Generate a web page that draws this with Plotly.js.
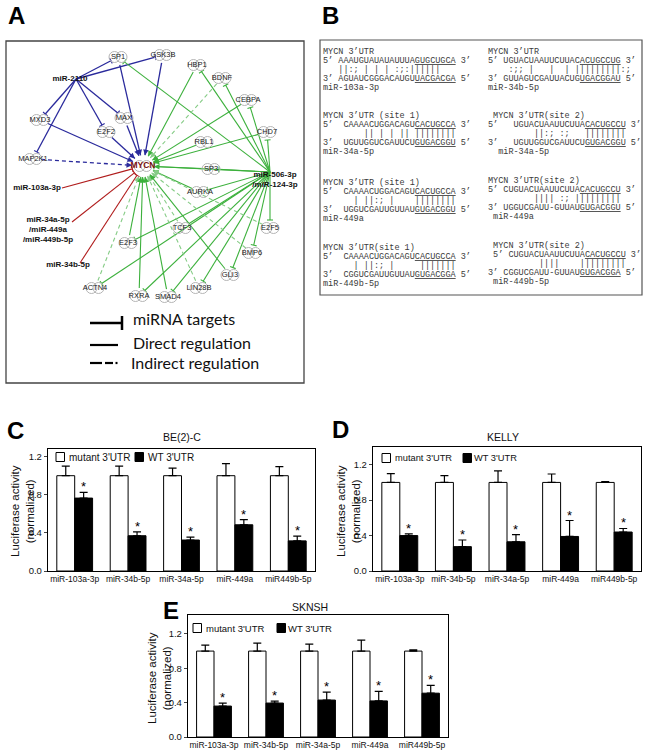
<!DOCTYPE html>
<html>
<head>
<meta charset="utf-8">
<script src="https://cdn.plot.ly/plotly-3.0.1.min.js"></script>
<style>
body { margin: 0; background: #fff; }
#plot { width: 648px; height: 752px; }
</style>
</head>
<body>
<div id="plot"></div>
<script>
// ---- luciferase data (panels C, D, E) ----
var mirLabels = ["miR-103a-3p", "miR-34b-5p", "miR-34a-5p", "miR-449a", "miR449b-5p"];

var beMutant = [1, 1, 1, 1, 1];
var beMutantErr = [0.10, 0.10, 0.08, 0.126, 0.095];
var beWT = [0.765, 0.37, 0.325, 0.485, 0.316];
var beWTErr = [0.06, 0.04, 0.03, 0.055, 0.05];

var kellyMutant = [1, 1, 1, 1, 1];
var kellyMutantErr = [0.10, 0.077, 0.13, 0.095, 0.01];
var kellyWT = [0.40, 0.275, 0.33, 0.39, 0.44];
var kellyWTErr = [0.02, 0.075, 0.08, 0.18, 0.04];

var sknshMutant = [1, 1, 1, 1, 1];
var sknshMutantErr = [0.07, 0.093, 0.08, 0.128, 0.015];
var sknshWT = [0.36, 0.395, 0.43, 0.42, 0.51];
var sknshWTErr = [0.035, 0.023, 0.093, 0.11, 0.09];

// ---- network (panel A) ----
var geneNames = ["MYCN", "SP1", "GSK3B", "HBP1", "BDNF", "CEBPA", "CHD7", "RBL1", "MAX", "E2F2", "MXD3", "MAP2K1",
  "SP3", "AURKA", "TCF3", "E2F5", "E2F3", "BMP6", "GLI3", "ACTN4", "LIN28B", "RXRA", "SMAD4"];
var mirNames = ["miR-2110", "miR-103a-3p", "miR-34a-5p<br>/miR-449a<br>/miR-449b-5p", "miR-34b-5p", "miR-506-3p<br>/miR-124-3p"];
var mirKeys = ["miR-2110", "miR-103a", "miR-34a", "miR-34b", "miR-506"];

// from, to, kind (T = miRNA target, A = direct, D = indirect), colour group
var edges = [
  ["miR-2110", "SP1", "T", "b"], ["miR-2110", "GSK3B", "T", "b"], ["miR-2110", "MXD3", "T", "b"],
  ["miR-2110", "MAP2K1", "T", "b"], ["miR-2110", "E2F2", "T", "b"], ["miR-2110", "MAX", "T", "b"],
  ["SP1", "MYCN", "A", "b"], ["GSK3B", "MYCN", "A", "b"], ["MAX", "MYCN", "A", "b"],
  ["E2F2", "MYCN", "A", "b"], ["MXD3", "MYCN", "A", "b"], ["MAP2K1", "MYCN", "D", "b"],
  ["miR-103a", "MYCN", "T", "r"], ["miR-34a", "MYCN", "T", "r"], ["miR-34b", "MYCN", "T", "r"],
  ["miR-506", "SP1", "T", "g"], ["miR-506", "HBP1", "T", "g"], ["miR-506", "BDNF", "T", "g"],
  ["miR-506", "CEBPA", "T", "g"], ["miR-506", "CHD7", "T", "g"], ["miR-506", "SP3", "T", "g"],
  ["miR-506", "AURKA", "T", "g"], ["miR-506", "E2F5", "T", "g"], ["miR-506", "BMP6", "T", "g"],
  ["miR-506", "GLI3", "T", "g"], ["miR-506", "LIN28B", "T", "g"], ["miR-506", "SMAD4", "T", "g"],
  ["miR-506", "RXRA", "T", "g"], ["miR-506", "ACTN4", "T", "g"], ["miR-506", "E2F3", "T", "g"],
  ["miR-506", "TCF3", "T", "g"], ["miR-506", "MYCN", "T", "g"],
  ["HBP1", "MYCN", "A", "g"], ["BDNF", "MYCN", "D", "g"], ["CEBPA", "MYCN", "A", "g"],
  ["CHD7", "MYCN", "A", "g"], ["RBL1", "MYCN", "A", "g"], ["SP3", "MYCN", "A", "g"],
  ["AURKA", "MYCN", "A", "g"], ["E2F5", "MYCN", "D", "g"], ["TCF3", "MYCN", "D", "g"],
  ["BMP6", "MYCN", "D", "g"], ["GLI3", "MYCN", "A", "g"], ["LIN28B", "MYCN", "D", "g"],
  ["SMAD4", "MYCN", "A", "g"], ["RXRA", "MYCN", "A", "g"], ["ACTN4", "MYCN", "D", "g"],
  ["E2F3", "MYCN", "A", "g"]
];

// ---- sequence alignments (panel B) ----
var utrHeads = ["MYCN 3’UTR", "MYCN 3’UTR", "MYCN 3’UTR (site 1)", " MYCN 3’UTR(site 2)",
  "MYCN 3’UTR (site 1)", "MYCN 3’UTR(site 2)", "MYCN 3’UTR(site 1)", " MYCN 3’UTR(site 2)"];
var utrSeqs = ["5’ AAAUGUAUAUAUUUA<u>GUGCUGCA</u> 3’", "5’ UGUACUAAUUCUUAC<u>ACUGCCUG</u> 3’",
  "5’  CAAAACUGGACAGU<u>CACUGCCA</u> 3’", "5’   UGUACUAAUUCUUA<u>CACUGCCU</u> 3’",
  "5’  CAAAACUGGACAGU<u>CACUGCCA</u> 3’", "5’ CUGUACUAAUUCUUA<u>CACUGCCU</u> 3’",
  "5’  CAAAACUGGACAGU<u>CACUGCCA</u> 3’", " 5’ CUGUACUAAUUCUUA<u>CACUGCCU</u> 3’"];
var pairLines = ["   ||:; | | | :;:||||||", "    :;; |   |  | |||||||||:;",
  "        || | | || ||||||||", "         ||:; :;   ||||||||",
  "      | ||:; |    ||||||||", "         |||| :; |||||||||",
  "      | ||:; |     |||||||", "          ||||    |||||||||"];
var mirSeqs = ["3’ AGUAUCGGGACAUGU<u>UACGACGA</u> 5’", "3’ GUUAGUCGAUUACUG<u>UGACGGAU</u> 5’",
  "3’  UGUUGGUCGAUUCU<u>GUGACGGU</u> 5’", "3’   UGUUGGUCGAUUCU<u>GUGACGGU</u> 5’",
  "3’  UGGUCGAUUGUUAU<u>GUGACGGU</u> 5’", "3’ UGGUCGAUU-GUUAU<u>GUGACGGU</u> 5’",
  "3’  CGGUCGAUUGUUAU<u>GUGACGGA</u> 5’", "3’ CGGUCGAUU-GUUAU<u>GUGACGGA</u> 5’"];
var mirTags = ["miR-103a-3p", "miR-34b-5p", "miR-34a-5p", "  miR-34a-5p", "miR-449a", " miR-449a", "miR-449b-5p", " miR-449b-5p"];

// ---- drawing positions (pixels of the 648x752 page) ----
var genePos = {
  MYCN: [143, 166], SP1: [118, 57], GSK3B: [163, 55], HBP1: [197, 65], BDNF: [222, 78], CEBPA: [248, 100],
  CHD7: [267, 132], RBL1: [204, 142], MAX: [124, 118], E2F2: [106, 132], MXD3: [40, 120], MAP2K1: [33, 159],
  SP3: [211, 169], AURKA: [200, 192], TCF3: [182, 228], E2F5: [270, 228], E2F3: [128, 243], BMP6: [252, 253],
  GLI3: [230, 275], ACTN4: [95, 288], LIN28B: [199, 288], RXRA: [139, 296], SMAD4: [168, 297]
};
var mirLabelPos = [[70, 79], [37, 188], [48, 230], [68, 265], [275, 180]];
var mirAnchor = {"miR-2110": [76, 79], "miR-103a": [62, 188], "miR-34a": [72, 222], "miR-34b": [80, 263], "miR-506": [270, 172]};
var seqPos = [[322, 52], [487, 52], [322, 116], [487, 116], [322, 183], [487, 181], [322, 248], [487, 246]];
var rowStep = 9.1;

var W = 648, H = 752;
function px(x) { return x / W; }
function py(y) { return 1 - y / H; }

var colours = {b: "#2a2a9c", g: "#3cb03c", r: "#b01c1c"};
var shapes = [];
var annotations = [];
var traces = [];

// ---- network edges ----
function nodeAt(name) {
  if (genePos[name]) return {p: genePos[name], r: name === "MYCN" ? 11 : 8};
  return {p: mirAnchor[name], r: 0};
}
edges.forEach(function (e) {
  var a = nodeAt(e[0]), b = nodeAt(e[1]);
  var dx = b.p[0] - a.p[0], dy = b.p[1] - a.p[1];
  var len = Math.sqrt(dx * dx + dy * dy);
  var ux = dx / len, uy = dy / len;
  var x0 = a.p[0] + ux * a.r, y0 = a.p[1] + uy * a.r;
  var x1 = b.p[0] - ux * b.r, y1 = b.p[1] - uy * b.r;
  var c = colours[e[3]];
  if (e[2] === "D" && e[3] === "g") c = "#86cc86";
  shapes.push({type: "line", xref: "x4", yref: "y4", x0: x0, y0: y0, x1: x1, y1: y1, layer: "below",
    line: {color: c, width: e[3] === "b" ? 1.3 : 1.1, dash: e[2] === "D" ? "4px,3px" : "solid"}});
  if (e[2] === "T") {
    shapes.push({type: "line", xref: "x4", yref: "y4", x0: x1 - uy * 3, y0: y1 + ux * 3, x1: x1 + uy * 3, y1: y1 - ux * 3,
      layer: "below", line: {color: c, width: 1.1}});
  } else {
    annotations.push({xref: "x4", yref: "y4", axref: "x4", ayref: "y4", x: x1, y: y1, ax: x1 - ux * 6, ay: y1 - uy * 6,
      text: "", showarrow: true, arrowhead: 2, arrowsize: 1, arrowwidth: 1.1, arrowcolor: c, standoff: 0});
  }
});

// node glyphs and labels
var glyphX = [], glyphY = [];
geneNames.forEach(function (g) {
  glyphX.push(genePos[g][0] - 3.5, genePos[g][0] + 3.5);
  glyphY.push(genePos[g][1], genePos[g][1]);
});
traces.push({type: "scatter", mode: "markers", x: glyphX, y: glyphY, xaxis: "x4", yaxis: "y4",
  marker: {symbol: "circle-open", size: 11, color: "#b5b5b5", line: {width: 1}}, hoverinfo: "skip", showlegend: false});
traces.push({type: "scatter", mode: "text", xaxis: "x4", yaxis: "y4",
  x: geneNames.map(function (g) { return genePos[g][0]; }),
  y: geneNames.map(function (g) { return genePos[g][1]; }),
  text: geneNames.map(function (g) { return g === "MYCN" ? "<b>MYCN</b>" : g; }),
  textfont: {family: "Liberation Sans, Arial, sans-serif", size: geneNames.map(function (g) { return g === "MYCN" ? 8.5 : 7.5; }),
    color: geneNames.map(function (g) { return g === "MYCN" ? "#7a0d0d" : "#222"; })},
  hoverinfo: "skip", showlegend: false});
traces.push({type: "scatter", mode: "text", xaxis: "x4", yaxis: "y4",
  x: mirLabelPos.map(function (p) { return p[0]; }), y: mirLabelPos.map(function (p) { return p[1]; }),
  text: mirNames.map(function (m) { return "<b>" + m + "</b>"; }),
  textfont: {family: "Liberation Sans, Arial, sans-serif", size: 8, color: "#111"},
  hoverinfo: "skip", showlegend: false});

// panel A frame and its legend
shapes.push({type: "rect", xref: "paper", yref: "paper", x0: px(6), x1: px(304), y0: py(383), y1: py(41), line: {color: "#444", width: 1.3}});
shapes.push({type: "line", xref: "x4", yref: "y4", x0: 90, x1: 122, y0: 323, y1: 323, line: {color: "#000", width: 2.5}});
shapes.push({type: "line", xref: "x4", yref: "y4", x0: 122, x1: 122, y0: 316, y1: 330, line: {color: "#000", width: 2.5}});
shapes.push({type: "line", xref: "x4", yref: "y4", x0: 90, x1: 118, y0: 345, y1: 345, line: {color: "#000", width: 2.2}});
shapes.push({type: "line", xref: "x4", yref: "y4", x0: 90, x1: 102, y0: 363, y1: 363, line: {color: "#000", width: 2.2}});
shapes.push({type: "line", xref: "x4", yref: "y4", x0: 105, x1: 113, y0: 363, y1: 363, line: {color: "#000", width: 2.2}});
shapes.push({type: "line", xref: "x4", yref: "y4", x0: 115.5, x1: 117.5, y0: 363, y1: 363, line: {color: "#000", width: 2.2}});
[["miRNA targets", 131, 318], ["Direct regulation", 131, 342], ["Indirect regulation", 129, 362]].forEach(function (t) {
  annotations.push({xref: "paper", yref: "paper", x: px(t[1]), y: py(t[2]), xanchor: "left", yanchor: "middle",
    text: t[0], showarrow: false, font: {family: "Lato, Open Sans, sans-serif", size: 16, color: "#111"}});
});

// ---- panel B ----
var NB = "\u00a0";
function mono(s) { return s.replace(/ /g, NB); }
shapes.push({type: "rect", xref: "paper", yref: "paper", x0: px(320), x1: px(642), y0: py(295), y1: py(40), line: {color: "#555", width: 1.2}});
seqPos.forEach(function (p, i) {
  var rows = [utrHeads[i], utrSeqs[i], pairLines[i], mirSeqs[i], mirTags[i]];
  rows.forEach(function (r, k) {
    annotations.push({xref: "paper", yref: "paper", x: px(p[0]), y: py(p[1] + k * rowStep), xanchor: "left", yanchor: "middle",
      text: mono(r), showarrow: false, borderpad: 0,
      font: {family: "Liberation Mono, Courier New, monospace", size: 8.5, color: "#3a3a3a"}});
  });
});

// ---- bar panels ----
var zeros = [0, 0, 0, 0, 0];
function barPair(mut, mutErr, wt, wtErr, xa, ya) {
  traces.push({type: "bar", x: mirLabels, y: mut, xaxis: xa, yaxis: ya, name: "mutant 3'UTR",
    marker: {color: "#fff", line: {color: "#000", width: 1}},
    error_y: {type: "data", symmetric: false, array: mutErr, arrayminus: zeros, color: "#000", thickness: 1.2, width: 4},
    hoverinfo: "skip", showlegend: false});
  traces.push({type: "bar", x: mirLabels, y: wt, xaxis: xa, yaxis: ya, name: "WT 3'UTR",
    marker: {color: "#000", line: {color: "#000", width: 1}},
    error_y: {type: "data", symmetric: false, array: wtErr, arrayminus: zeros, color: "#000", thickness: 1.2, width: 4},
    hoverinfo: "skip", showlegend: false});
  wt.forEach(function (v, i) {
    annotations.push({xref: xa, yref: ya, x: i + 0.1675, y: v + wtErr[i], xanchor: "center", yanchor: "bottom", yshift: -4,
      text: "*", showarrow: false, font: {family: "Liberation Sans, Arial, sans-serif", size: 13, color: "#000"}});
  });
}
barPair(beMutant, beMutantErr, beWT, beWTErr, "x", "y");
barPair(kellyMutant, kellyMutantErr, kellyWT, kellyWTErr, "x2", "y2");
barPair(sknshMutant, sknshMutantErr, sknshWT, sknshWTErr, "x3", "y3");

var axFont = {family: "Liberation Sans, Arial, sans-serif", size: 8.5, color: "#111"};
function xAxis(l, r, anchor) {
  return {domain: [px(l), px(r)], anchor: anchor, type: "category", showline: true, mirror: true, linecolor: "#000",
    linewidth: 1.2, ticks: "", tickfont: axFont, showgrid: false, zeroline: false, fixedrange: true};
}
function yAxis(top, bottom, topValue, anchor) {
  return {domain: [py(bottom), py(top)], anchor: anchor, range: [0, topValue], showline: true, mirror: true,
    linecolor: "#000", linewidth: 1.2, ticks: "outside", ticklen: 3, tickwidth: 1, tickvals: [0, 0.4, 0.8, 1.2],
    ticktext: ["0.0", "0.4", "0.8", "1.2"], tickfont: {family: "Liberation Sans, Arial, sans-serif", size: 9.5, color: "#111"},
    showgrid: false, zeroline: false, fixedrange: true};
}

// panel titles, y titles, hand-made legends
var panels = [
  {title: "BE(2)-C", tx: 182, ty: 437, yt: [22, 511], leg: [56, 457, 68, 135, 147], lf: 10},
  {title: "KELLY", tx: 503, ty: 437, yt: [348, 511], leg: [382, 458, 394, 463, 473], lf: 9.3},
  {title: "SKNSH", tx: 310, ty: 607, yt: [159, 678], leg: [193, 628, 205, 277, 287], lf: 9.5}
];
panels.forEach(function (p) {
  annotations.push({xref: "paper", yref: "paper", x: px(p.tx), y: py(p.ty), xanchor: "center", yanchor: "middle",
    text: p.title, showarrow: false, font: {family: "Liberation Sans, Arial, sans-serif", size: 10.5, color: "#111"}});
  annotations.push({xref: "paper", yref: "paper", x: px(p.yt[0]), y: py(p.yt[1]), xanchor: "center", yanchor: "middle",
    textangle: -90, text: "Luciferase activity<br>(normalized)", showarrow: false,
    font: {family: "Liberation Sans, Arial, sans-serif", size: 11.5, color: "#111"}});
  var l = p.leg;
  shapes.push({type: "rect", xref: "paper", yref: "paper", x0: px(l[0]), x1: px(l[0] + 8.5), y0: py(l[1] + 4.5), y1: py(l[1] - 4.5),
    fillcolor: "#fff", line: {color: "#000", width: 1}});
  shapes.push({type: "rect", xref: "paper", yref: "paper", x0: px(l[3]), x1: px(l[3] + 8.5), y0: py(l[1] + 4.5), y1: py(l[1] - 4.5),
    fillcolor: "#000", line: {color: "#000", width: 1}});
  annotations.push({xref: "paper", yref: "paper", x: px(l[2]), y: py(l[1]), xanchor: "left", yanchor: "middle", borderpad: 0,
    text: "mutant 3'UTR", showarrow: false, font: {family: "Liberation Sans, Arial, sans-serif", size: p.lf, color: "#111"}});
  annotations.push({xref: "paper", yref: "paper", x: px(l[4]), y: py(l[1]), xanchor: "left", yanchor: "middle", borderpad: 0,
    text: "WT 3'UTR", showarrow: false, font: {family: "Liberation Sans, Arial, sans-serif", size: p.lf, color: "#111"}});
});

// panel letters
[["A", 16, 15], ["B", 330, 15], ["C", 15, 431], ["D", 340, 429], ["E", 171, 610]].forEach(function (t) {
  annotations.push({xref: "paper", yref: "paper", x: px(t[1]), y: py(t[2]), xanchor: "center", yanchor: "middle",
    text: "<b>" + t[0] + "</b>", showarrow: false,
    font: {family: "Liberation Sans, Arial, sans-serif", size: 24, color: "#000"}});
});

var layout = {
  width: W, height: H,
  margin: {l: 0, r: 0, t: 0, b: 0},
  paper_bgcolor: "#fff", plot_bgcolor: "rgba(0,0,0,0)",
  barmode: "group", bargap: 0.33, bargroupgap: 0,
  showlegend: false,
  xaxis: xAxis(48, 315, "y"), yaxis: yAxis(449, 571, 1.28, "x"),
  xaxis2: xAxis(373, 641, "y2"), yaxis2: yAxis(447, 571, 1.40, "x2"),
  xaxis3: xAxis(188, 448, "y3"), yaxis3: yAxis(615, 737, 1.42, "x3"),
  xaxis4: {domain: [px(6), px(304)], range: [6, 304], anchor: "y4", visible: false, fixedrange: true},
  yaxis4: {domain: [py(383), py(41)], range: [383, 41], anchor: "x4", visible: false, fixedrange: true},
  shapes: shapes,
  annotations: annotations
};

Plotly.newPlot("plot", traces, layout, {displayModeBar: false, staticPlot: true});
</script>
</body>
</html>
